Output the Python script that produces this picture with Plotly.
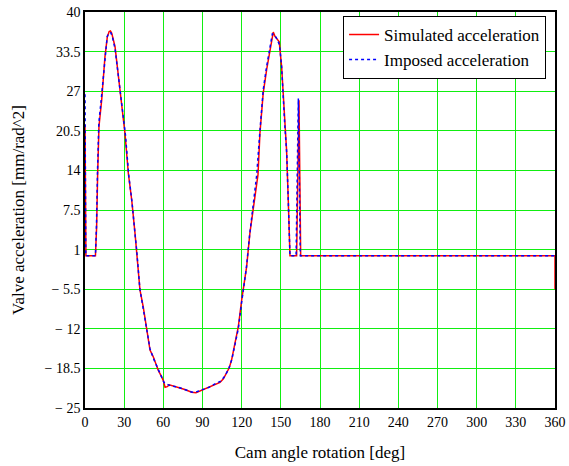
import plotly.graph_objects as go

# Cam angle (deg) and valve acceleration (mm/rad^2)
sim_deg = [0, 0.7, 8, 8.9, 9.7, 10.7, 12.8, 14, 15.3, 17.1, 18.5, 19.5, 20.5, 23, 26.8,
           29.3, 30.6, 33.2, 35.8, 38.3, 39.6, 42.1, 44.6, 47.2, 49.8, 52.3, 56.1, 58.7,
           60, 61.3, 63, 64.5, 66.4, 70.2, 74, 77, 81.7, 85, 88.1, 92, 95.7, 99.5, 103.4,
           106, 108.5, 110.5, 112.3, 114.9, 117.4, 120, 123.8, 126.3, 128.9, 131.5, 132.5,
           134, 136.5, 139.1, 141.7, 143.3, 144.2, 145.5, 146.8, 148.8, 150.6, 152, 153.1,
           154.4, 155.7, 157, 162.1, 163.9, 165.2, 360, 360]
sim_acc = [21.5, 0, 0, 4.7, 13.5, 21.2, 25.6, 28.8, 32.7, 35.9, 36.8, 36.9, 36.5, 34.3, 27.2,
           22.8, 20.1, 13.5, 9.1, 3.7, 0.9, -5.6, -8.4, -12.2, -15.5, -16.6, -18.8, -19.9,
           -20.5, -21.6, -21.5, -21.2, -21.3, -21.5, -21.8, -22.0, -22.4, -22.5, -22.2, -21.9,
           -21.5, -21.2, -20.8, -20.2, -19.3, -18.4, -17.1, -14.4, -11.7, -7.3, -1.8, 3.7, 8.0,
           12.3, 13.3, 20.1, 26.7, 30.5, 33.8, 35.5, 36.7, 36.0, 35.7, 35.1, 31.0, 26.0, 21.2,
           17.3, 9.1, 0, 0, 25.5, 0, 0, -5.5]

imp_deg = [0, 0.6, 8, 8.8, 9.6, 10.6, 12.6, 14, 15.3, 17.0, 18.5, 19.8, 21, 23, 26.5,
           29.5, 31, 33.5, 36, 38.3, 39.6, 42, 44.5, 47, 49.8, 52.3, 56, 58.7, 60.5, 62,
           64, 66, 70, 74, 78, 82, 86, 90, 95, 100, 104, 107, 110, 112.5, 115, 117.5, 120,
           123.5, 126, 129, 131.5, 134, 136.5, 139, 141.5, 143.5, 145, 147, 149, 150.6, 153,
           154.5, 155.7, 157, 161.7, 163.4, 164.9, 360]
imp_acc = [26.5, 0, 0, 5.0, 14.0, 21.8, 26.0, 29.5, 33.2, 36.0, 36.6, 36.6, 35.9, 34.0, 27.8,
           22.5, 19.8, 13.2, 8.8, 3.6, 0.9, -5.4, -8.6, -12.0, -15.3, -16.8, -18.6, -20.2, -20.8,
           -21.0, -21.2, -21.4, -21.5, -21.8, -22.1, -22.4, -22.3, -22.0, -21.6, -21.0, -20.6,
           -19.8, -18.6, -17.0, -14.6, -11.9, -7.6, -2.2, 3.2, 8.4, 13.2, 20.5, 27.2, 30.9, 34.2,
           36.4, 36.3, 35.6, 34.6, 31.0, 21.5, 16.8, 9.0, 0, 0, 25.8, 0, 0]

x_ticks = list(range(0, 361, 30))
y_ticks = [-25, -18.5, -12, -5.5, 1, 7.5, 14, 20.5, 27, 33.5, 40]
y_labels = ["\u2212 25", "\u2212 18.5", "\u2212 12", "\u2212 5.5", "1", "7.5", "14", "20.5",
            "27", "33.5", "40"]

FONT = "Liberation Serif, Times New Roman, serif"

fig = go.Figure()
fig.add_trace(go.Scatter(x=sim_deg, y=sim_acc, mode="lines", name="Simulated acceleration",
                         line=dict(color="#FF0000", width=1.5)))
fig.add_trace(go.Scatter(x=imp_deg, y=imp_acc, mode="lines", name="Imposed acceleration",
                         line=dict(color="#0000FF", width=1.5, dash="dot")))

fig.update_layout(
    width=569, height=466,
    margin=dict(l=85, r=14, t=12, b=58, autoexpand=False),
    paper_bgcolor="white", plot_bgcolor="white",
    font=dict(family=FONT, color="black", size=14),
    showlegend=True,
    legend=dict(x=0.981, y=0.99, xanchor="right", yanchor="top",
                bordercolor="black", borderwidth=1, bgcolor="white",
                font=dict(family=FONT, size=17), tracegroupgap=0),
    xaxis=dict(range=[0, 360], tickvals=x_ticks, ticktext=[str(v) for v in x_ticks],
               showgrid=True, gridcolor="#11EE11", gridwidth=1, zeroline=False,
               showline=True, linecolor="black", linewidth=1.5, mirror=True,
               automargin=False,
               ticks="", tickfont=dict(size=14, family=FONT),
               title=dict(text="Cam angle rotation [deg]", font=dict(size=17, family=FONT),
                          standoff=18)),
    yaxis=dict(range=[-25, 40], tickvals=y_ticks, ticktext=y_labels,
               showgrid=True, gridcolor="#11EE11", gridwidth=1, zeroline=False,
               showline=True, linecolor="black", linewidth=1.5, mirror=True,
               automargin=False,
               ticks="", tickfont=dict(size=14, family=FONT),
               title=dict(text="Valve acceleration [mm/rad^2]", font=dict(size=17, family=FONT),
                          standoff=16)),
)

fig.write_html("out.html")
